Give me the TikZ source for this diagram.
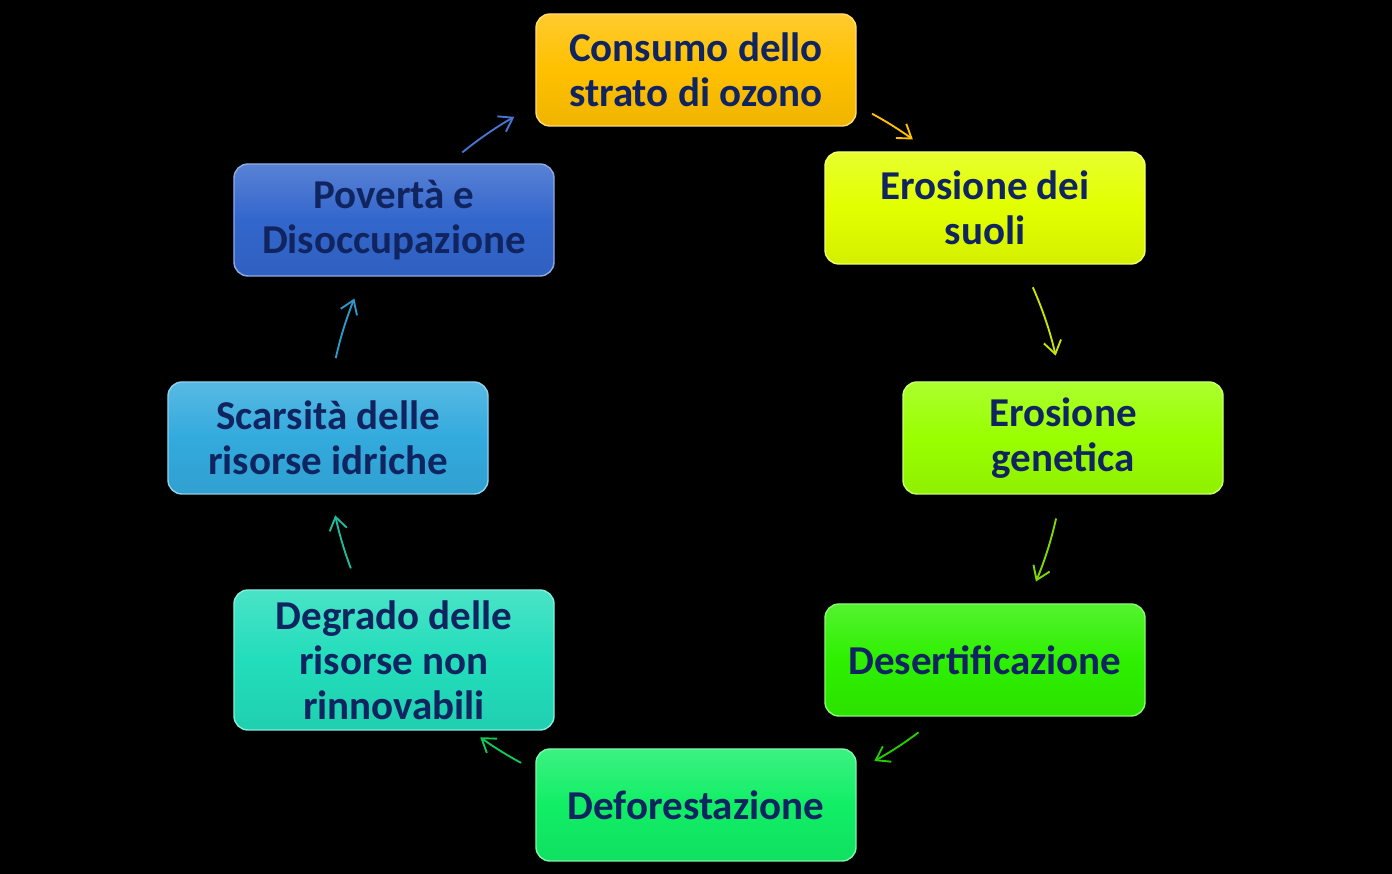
\documentclass[tikz,border=0pt]{standalone}
\usepackage{fontspec}
\setmainfont{Carlito}
\usepackage{xcolor}
\usepackage{tikz}
\usetikzlibrary{arrows.meta, positioning, shadings}
\definecolor{textnavy}{HTML}{10245F}
\definecolor{ozonofill}{HTML}{FFC000}
\definecolor{suolifill}{HTML}{E2FF00}
\definecolor{geneticafill}{HTML}{99FF00}
\definecolor{desertfill}{HTML}{2EF000}
\definecolor{deforestfill}{HTML}{11EE66}
\definecolor{degradofill}{HTML}{22DDBB}
\definecolor{idrichefill}{HTML}{33AADD}
\definecolor{povertafill}{HTML}{3366CC}
\tikzset{
    cyclebox/.style={
        rectangle, rounded corners=0.42cm,
        top color=#1!82!white, bottom color=#1!94!black,
        middle color=#1,
        draw=#1!55!white, line width=1.2pt,
        minimum width=9.6cm, minimum height=3.36cm,
        font=\bfseries\fontsize{35}{38.5}\selectfont,
        text=textnavy, align=center, inner sep=2pt
    },
    cyclebox/.default=ozonofill,
    cyclearrow/.style={
        -{Straight Barb[length=11pt, width=15pt, line width=1.6pt]},
        line width=1.6pt, color=#1
    },
}

\begin{document}
\begin{tikzpicture}[x=0.03cm, y=0.03cm]

    % Background
    \fill[black] (0,0) rectangle (1392,874);
    \coordinate (ctr) at (696,436);

    % Right half of the cycle
    \node[cyclebox=ozonofill] (ozono) at (696,804) {Consumo dello\\strato di ozono};
    \node[cyclebox=suolifill] (suoli) at (985,666) {Erosione dei\\suoli};
    \node[cyclebox=geneticafill] (genetica) at (1063,436) {Erosione\\genetica};
    \node[cyclebox=desertfill] (desert) at (985,214) {Desertificazione};
    \node[cyclebox=deforestfill] (deforest) at (696,69) {Deforestazione};

    % Left half of the cycle
    \node[cyclebox=degradofill, minimum height=4.2cm] (degrado) at (394,214) {Degrado delle\\risorse non\\rinnovabili};
    \node[cyclebox=idrichefill] (idriche) at (328,436) {Scarsit\`a delle\\risorse idriche};
    \node[cyclebox=povertafill] (poverta) at (394,654) {Povert\`a e\\Disoccupazione};

    % Arrows along the circle
    \draw[cyclearrow=ozonofill] (ctr) ++(61.5:369) arc[start angle=61.5, end angle=54, radius=369];
    \draw[cyclearrow=suolifill!90!black] (ctr) ++(24.1:369) arc[start angle=24.1, end angle=12.9, radius=369];
    \draw[cyclearrow=geneticafill!85!black] (ctr) ++(-12.6:369) arc[start angle=-12.6, end angle=-22.9, radius=369];
    \draw[cyclearrow=desertfill!85!black] (ctr) ++(-52.9:369) arc[start angle=-52.9, end angle=-61.1, radius=369];
    \draw[cyclearrow=deforestfill!85!black] (ctr) ++(-118.3:369) arc[start angle=-118.3, end angle=-125.8, radius=369];
    \draw[cyclearrow=degradofill!85!black] (ctr) ++(-159.3:369) arc[start angle=-159.3, end angle=-167.9, radius=369];
    \draw[cyclearrow=idrichefill!90!black] (ctr) ++(167.5:369) arc[start angle=167.5, end angle=157.8, radius=369];
    \draw[cyclearrow=povertafill!90!white] (ctr) ++(129.3:369) arc[start angle=129.3, end angle=119.5, radius=369];

\end{tikzpicture}
\end{document}
